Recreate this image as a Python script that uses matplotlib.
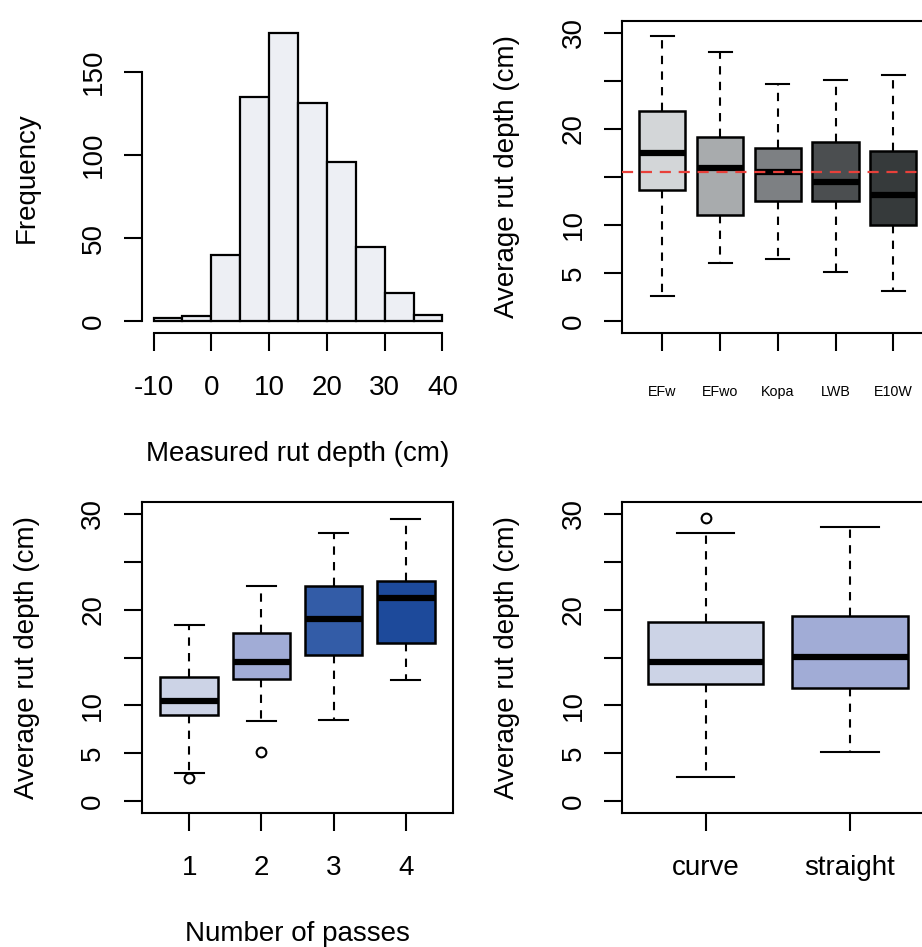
import matplotlib
matplotlib.use("Agg")
import matplotlib.pyplot as plt

plt.rcParams["font.family"] = ["Liberation Sans", "DejaVu Sans"]
plt.rcParams["axes.unicode_minus"] = False

FIG_W, FIG_H = 922, 947

# histogram of measured rut depth
HIST_EDGES = [-10, -5, 0, 5, 10, 15, 20, 25, 30, 35, 40]
HIST_COUNTS = [2, 3, 40, 135, 173, 131, 96, 45, 17, 4]
HIST_COLOR = "#edeff4"

# rut depth by machine
MACHINES = ["EFw", "EFwo", "Kopa", "LWB", "E10W"]
MACHINE_LO = [2.6, 6.0, 6.5, 5.1, 3.1]
MACHINE_Q1 = [13.6, 11.0, 12.5, 12.5, 10.0]
MACHINE_MED = [17.5, 15.9, 15.5, 14.5, 13.1]
MACHINE_Q3 = [21.8, 19.1, 18.0, 18.6, 17.7]
MACHINE_HI = [29.6, 28.0, 24.6, 25.1, 25.6]
MACHINE_FLIERS = [[], [], [], [], []]
MACHINE_COLORS = ["#d3d6d8", "#a8abad", "#7d8083", "#4b4e50", "#363a3b"]
OVERALL_MEAN = 15.5

# rut depth by number of passes
PASSES = ["1", "2", "3", "4"]
PASS_LO = [2.95, 8.4, 8.5, 12.6]
PASS_Q1 = [8.95, 12.8, 15.3, 16.5]
PASS_MED = [10.5, 14.5, 19.0, 21.2]
PASS_Q3 = [13.0, 17.6, 22.5, 23.0]
PASS_HI = [18.35, 22.5, 28.0, 29.5]
PASS_FLIERS = [[2.4], [5.1], [], []]
PASS_COLORS = ["#ccd3e6", "#a1acd6", "#335ca7", "#1d4a9b"]

# rut depth by road geometry
ROADS = ["curve", "straight"]
ROAD_LO = [2.5, 5.15]
ROAD_Q1 = [12.25, 11.85]
ROAD_MED = [14.5, 15.1]
ROAD_Q3 = [18.75, 19.3]
ROAD_HI = [28.0, 28.6]
ROAD_FLIERS = [[29.55], []]
ROAD_COLORS = ["#ccd3e6", "#a1acd6"]

YLABEL = "Average rut depth (cm)"
BOX_YTICKS = [0, 5, 10, 15, 20, 25, 30]
BOX_YLABELS = ["0", "5", "10", "", "20", "", "30"]


def px_axes(fig, left, top, right, bottom):
    # pixel box (from top-left) -> figure fraction
    return fig.add_axes([left / FIG_W, 1 - bottom / FIG_H,
                         (right - left) / FIG_W, (bottom - top) / FIG_H])


def make_stats(lo, q1, med, q3, hi, fliers):
    return [dict(whislo=a, q1=b, med=c, q3=d, whishi=e, fliers=f)
            for a, b, c, d, e, f in zip(lo, q1, med, q3, hi, fliers)]


def style_axes(ax, xpad=17.3, xsize=20):
    ax.tick_params(axis="both", length=13, width=1.5)
    ax.tick_params(axis="x", pad=xpad, labelsize=xsize)
    ax.tick_params(axis="y", pad=12.5, labelsize=20)
    for sp in ax.spines.values():
        sp.set_linewidth(1.5)


def draw_boxes(ax, stats, colors, names):
    pos = list(range(1, len(stats) + 1))
    bp = ax.bxp(stats, positions=pos, widths=0.8, capwidths=0.4,
                patch_artist=True, showfliers=True,
                boxprops=dict(linewidth=1.8, edgecolor="black"),
                medianprops=dict(color="black", linewidth=4.5, solid_capstyle="butt"),
                whiskerprops=dict(color="black", linewidth=1.5, linestyle=(0, (4, 3.5))),
                capprops=dict(color="black", linewidth=1.5),
                flierprops=dict(marker="o", markerfacecolor="none", markeredgecolor="black",
                                markersize=7, markeredgewidth=1.5))
    for patch, c in zip(bp["boxes"], colors):
        patch.set_facecolor(c)
    n = len(stats)
    ax.set_xlim(0.5 - 0.04 * n, n + 0.5 + 0.04 * n)
    ax.set_ylim(-1.2, 31.2)
    ax.set_xticks(pos, names)
    ax.set_yticks(BOX_YTICKS, BOX_YLABELS, rotation=90, va="center")


def plot_histogram(fig):
    ax = px_axes(fig, 142, 21.8, 454, 333)
    widths = [HIST_EDGES[i + 1] - HIST_EDGES[i] for i in range(len(HIST_COUNTS))]
    ax.bar(HIST_EDGES[:-1], HIST_COUNTS, width=widths, align="edge",
           color=HIST_COLOR, edgecolor="black", linewidth=1.6)
    ax.set_xlim(-12, 42)
    ax.set_ylim(-6.92, 179.9)
    ax.spines["top"].set_visible(False)
    ax.spines["right"].set_visible(False)
    ax.spines["bottom"].set_bounds(-10, 40)
    ax.spines["left"].set_bounds(0, 150)
    ax.set_xticks([-10, 0, 10, 20, 30, 40])
    ax.set_yticks([0, 50, 100, 150], ["0", "50", "100", "150"], rotation=90, va="center")
    style_axes(ax)
    fig.text(27 / FIG_W, 1 - 177.4 / FIG_H, "Frequency", rotation=90,
             ha="center", va="center", fontsize=20)
    fig.text(298 / FIG_W, 1 - 454 / FIG_H, "Measured rut depth (cm)",
             ha="center", va="center", fontsize=20)


def plot_machines(fig):
    ax = px_axes(fig, 622, 21, 933.7, 332.7)
    stats = make_stats(MACHINE_LO, MACHINE_Q1, MACHINE_MED, MACHINE_Q3, MACHINE_HI, MACHINE_FLIERS)
    draw_boxes(ax, stats, MACHINE_COLORS, MACHINES)
    ax.axhline(OVERALL_MEAN, color="#e8403a", linewidth=1.6, linestyle=(0, (5, 3.5)), zorder=5)
    style_axes(ax, xpad=24.7, xsize=10.3)
    fig.text(507 / FIG_W, 1 - 177 / FIG_H, YLABEL, rotation=90,
             ha="center", va="center", fontsize=20)


def plot_passes(fig):
    ax = px_axes(fig, 141.7, 502.3, 453.3, 812.7)
    stats = make_stats(PASS_LO, PASS_Q1, PASS_MED, PASS_Q3, PASS_HI, PASS_FLIERS)
    draw_boxes(ax, stats, PASS_COLORS, PASSES)
    style_axes(ax)
    fig.text(27 / FIG_W, 1 - 657.5 / FIG_H, YLABEL, rotation=90,
             ha="center", va="center", fontsize=20)
    fig.text(297.5 / FIG_W, 1 - 934 / FIG_H, "Number of passes",
             ha="center", va="center", fontsize=20)


def plot_roads(fig):
    ax = px_axes(fig, 622, 502.3, 933.5, 812.7)
    stats = make_stats(ROAD_LO, ROAD_Q1, ROAD_MED, ROAD_Q3, ROAD_HI, ROAD_FLIERS)
    draw_boxes(ax, stats, ROAD_COLORS, ROADS)
    style_axes(ax)
    fig.text(507 / FIG_W, 1 - 657.5 / FIG_H, YLABEL, rotation=90,
             ha="center", va="center", fontsize=20)


fig = plt.figure(figsize=(FIG_W / 100, FIG_H / 100), dpi=100)
plot_histogram(fig)
plot_machines(fig)
plot_passes(fig)
plot_roads(fig)
fig.savefig("out.png", dpi=100)
